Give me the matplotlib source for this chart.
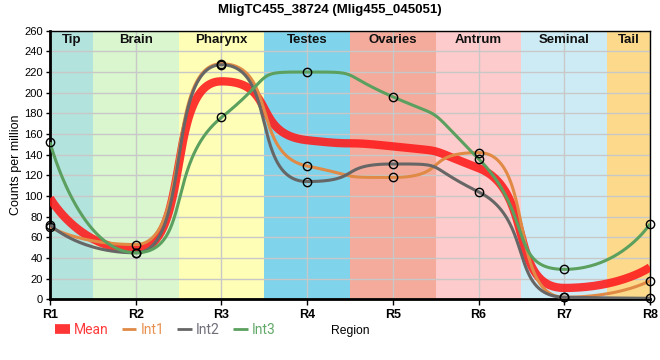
import numpy as np
import matplotlib
matplotlib.use("Agg")
import matplotlib.pyplot as plt
from matplotlib.lines import Line2D

plt.rcParams['font.family'] = ['Liberation Sans', 'DejaVu Sans']

title = "MligTC455_38724 (Mlig455_045051)"
regions = ["R1", "R2", "R3", "R4", "R5", "R6", "R7", "R8"]
band_names = ["Tip", "Brain", "Pharynx", "Testes", "Ovaries", "Antrum", "Seminal", "Tail"]
band_colors = ["#b3e3dd", "#d9f6cf", "#fefeb6", "#7fd3ea", "#f4ab9c", "#fdcbcb", "#cdebf5", "#fdda8b"]

mean_vals = [98, 48, 211, 154, 148, 127, 11, 31]
int1_vals = [70, 53, 228, 129, 118, 142, 2, 18]
int2_vals = [72, 45, 227, 114, 131, 104, 2, 1]
int3_vals = [152, 45, 176, 220, 196, 136, 29, 73]

series = [
    ("Mean", mean_vals, "#ff1a1a", 6.0, 0.88, False),
    ("Int1", int1_vals, "#e08a45", 2.2, 1.0, True),
    ("Int2", int2_vals, "#666666", 2.2, 1.0, True),
    ("Int3", int3_vals, "#5ba05e", 2.2, 1.0, True),
]
legend_text_colors = ["#ff3b3b", "#e8904f", "#6f6f7a", "#62a868"]


def spline(xs, ys, alpha=0.66, n=80):
    xs = list(map(float, xs)); ys = list(map(float, ys))
    N = len(xs)
    lc = [None] * N
    rc = [None] * N
    for i in range(1, N - 1):
        x, y = xs[i], ys[i]
        lx, ly = xs[i - 1], ys[i - 1]
        nx, ny = xs[i + 1], ys[i + 1]
        lcX = (1 - alpha) * x + alpha * lx; lcY = (1 - alpha) * y + alpha * ly
        rcX = (1 - alpha) * x + alpha * nx; rcY = (1 - alpha) * y + alpha * ny
        corr = y - rcY - (x - rcX) * (lcY - rcY) / (lcX - rcX)
        lcY += corr; rcY += corr
        if lcY > ly and lcY > y:
            lcY = max(ly, y); rcY = 2 * y - lcY
        elif lcY < ly and lcY < y:
            lcY = min(ly, y); rcY = 2 * y - lcY
        if rcY > ny and rcY > y:
            rcY = max(ny, y); lcY = 2 * y - rcY
        elif rcY < ny and rcY < y:
            rcY = min(ny, y); lcY = 2 * y - rcY
        lc[i] = (lcX, lcY); rc[i] = (rcX, rcY)
    px, py = [], []
    t = np.linspace(0, 1, n)
    for i in range(1, N):
        P0 = (xs[i - 1], ys[i - 1])
        P1 = rc[i - 1] if rc[i - 1] is not None else P0
        P3 = (xs[i], ys[i])
        P2 = lc[i] if lc[i] is not None else P3
        b0 = (1 - t) ** 3; b1 = 3 * (1 - t) ** 2 * t; b2 = 3 * (1 - t) * t ** 2; b3 = t ** 3
        px.extend(b0 * P0[0] + b1 * P1[0] + b2 * P2[0] + b3 * P3[0])
        py.extend(b0 * P0[1] + b1 * P1[1] + b2 * P2[1] + b3 * P3[1])
    return np.array(px), np.array(py)


fig = plt.figure(figsize=(6.6, 3.6), dpi=100)
ax = fig.add_axes([50 / 660, 1 - 299.3 / 360, 600 / 660, 268.6 / 360])

x = np.arange(len(regions))
for i, (name, col) in enumerate(zip(band_names, band_colors)):
    lo, hi = max(i - 0.5, 0), min(i + 0.5, len(regions) - 1)
    ax.axvspan(lo, hi, color=col, zorder=0, lw=0)
    ax.text((lo + hi) / 2, 0.967, name, transform=ax.get_xaxis_transform(), ha='center', va='center',
            fontsize=9.5, fontweight='bold', color='#111111', zorder=1)

ax.set_xlim(0, 7)
ax.set_ylim(0, 260)
ax.set_yticks(np.arange(0, 261, 20))
ax.set_xticks(x)
ax.set_xticklabels(regions, fontsize=9, fontweight='bold')
ax.tick_params(axis='y', labelsize=8, length=3, width=1, pad=2)
ax.tick_params(axis='x', length=4, width=1, pad=3)
ax.grid(True, color='#c8c8c8', lw=1)
ax.set_axisbelow(True)

for sp in ['left', 'bottom']:
    ax.spines[sp].set_linewidth(2)
for sp in ['top', 'right']:
    ax.spines[sp].set_linewidth(1)

handles = []
for name, vals, col, lw, alpha, markers in series:
    sx, sy = spline(x, vals)
    ax.plot(sx, sy, color=col, lw=lw, alpha=alpha, zorder=3 if name == "Mean" else 4,
            solid_capstyle='butt')
    if markers:
        ax.plot(x, vals, 'o', ms=6, mfc='none', mec='black', mew=1, zorder=6, clip_on=False)
    handles.append(Line2D([0], [0], color=col, lw=(7 if name == "Mean" else 2), alpha=alpha,
                          solid_capstyle='butt'))

ax.set_ylabel("Counts per million", fontsize=9, labelpad=2)

leg = fig.legend(handles, [s[0] for s in series], loc='center left',
                 bbox_to_anchor=(55 / 660, 1 - 330 / 360), ncol=4, frameon=False,
                 handlelength=1.05, handletextpad=0.3, columnspacing=0.95,
                 prop={'family': 'Roboto', 'size': 10}, borderaxespad=0, borderpad=0)
for txt, c in zip(leg.get_texts(), legend_text_colors):
    txt.set_color(c)

fig.text(350 / 660, 1 - 331 / 360, "Region", ha='center', va='center', fontsize=8.7)
fig.text(0.5, 1 - 10 / 360, title, ha='center', va='center', fontsize=9.5, fontweight='bold')

fig.savefig("out.png", dpi=100)
